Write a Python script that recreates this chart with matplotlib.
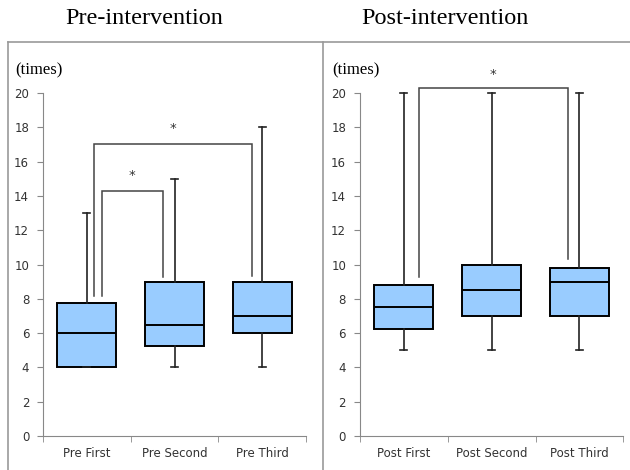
import matplotlib.pyplot as plt
from matplotlib.lines import Line2D

# box statistics
pre_labels = ["Pre First", "Pre Second", "Pre Third"]
pre_q1 = [4.0, 5.25, 6.0]
pre_med = [6.0, 6.5, 7.0]
pre_q3 = [7.75, 9.0, 9.0]
pre_lo = [4.0, 4.0, 4.0]
pre_hi = [13.0, 15.0, 18.0]

post_labels = ["Post First", "Post Second", "Post Third"]
post_q1 = [6.25, 7.0, 7.0]
post_med = [7.5, 8.5, 9.0]
post_q3 = [8.8, 10.0, 9.8]
post_lo = [5.0, 5.0, 5.0]
post_hi = [20.0, 20.0, 20.0]

# significance brackets: (x_left, x_right, y_left_bottom, y_right_bottom, y_top, star_y)
pre_brackets = [
    (1.17, 1.865, 8.15, 9.3, 14.3, 15.2),
    (1.08, 2.887, 8.15, 9.35, 17.0, 17.95),
]
post_brackets = [
    (1.17, 2.865, 9.3, 10.3, 20.28, 21.1),
]

BOX = "#99CCFF"
GREY = "#888888"
TXT = "#333333"


def stats(labels, q1, med, q3, lo, hi):
    return [dict(label=l, q1=a, med=m, q3=b, whislo=w0, whishi=w1, fliers=[])
            for l, a, m, b, w0, w1 in zip(labels, q1, med, q3, lo, hi)]


def panel(ax, st, brackets):
    ax.bxp(st, positions=[1, 2, 3], widths=0.67, capwidths=0.08,
           showfliers=False, patch_artist=True,
           boxprops=dict(facecolor=BOX, edgecolor="black", linewidth=1.4),
           medianprops=dict(color="black", linewidth=1.4),
           whiskerprops=dict(color="#222222", linewidth=1.2),
           capprops=dict(color="#222222", linewidth=1.2))
    for xl, xr, yl, yr, yt, ys in brackets:
        ax.plot([xl, xl, xr, xr], [yl, yt, yt, yr], color="#444444", lw=1.1,
                solid_joinstyle="miter")
        ax.text((xl + xr) / 2, ys, "*", ha="center", va="center",
                fontsize=9.5, color="#333333")
    ax.set_xlim(0.5, 3.5)
    ax.set_ylim(0, 22)
    ax.set_yticks(range(0, 21, 2))
    ax.set_xticks([1, 2, 3])
    ax.set_xticklabels([s["label"] for s in st])
    ax.set_xticks([0.5, 1.5, 2.5, 3.5], minor=True)
    ax.tick_params(axis="x", which="major", length=0, pad=8, labelsize=8.5,
                   labelcolor=TXT)
    ax.tick_params(axis="x", which="minor", length=4, color=GREY, direction="out")
    ax.tick_params(axis="y", length=4, color=GREY, labelsize=8.5,
                   labelcolor=TXT, pad=6)
    for s in ["top", "right"]:
        ax.spines[s].set_visible(False)
    ax.spines["left"].set_bounds(0, 20)
    ax.spines["left"].set_color(GREY)
    ax.spines["bottom"].set_color(GREY)
    ax.text(-0.107, 0.97, "(times)", transform=ax.transAxes, ha="left",
            va="center", family="Liberation Serif", fontsize=12, color="black")


fig = plt.figure(figsize=(6.3, 4.7), dpi=100)
ax1 = fig.add_axes([0.0683, 0.0723, 0.4175, 0.8028])
ax2 = fig.add_axes([0.5714, 0.0723, 0.418, 0.8028])
panel(ax1, stats(pre_labels, pre_q1, pre_med, pre_q3, pre_lo, pre_hi), pre_brackets)
panel(ax2, stats(post_labels, post_q1, post_med, post_q3, post_lo, post_hi), post_brackets)

# panel frames
W, H = 630, 470
for xs, ys in [([8, 630], [42, 42]), ([8, 8], [42, 470]), ([323, 323], [42, 470])]:
    fig.add_artist(Line2D([x / W for x in xs], [1 - y / H for y in ys],
                          color="#999999", lw=1.2))

fig.text(144.5 / W, 1 - 18.5 / H, "Pre-intervention", ha="center", va="center",
         family="Liberation Serif", fontsize=17.5)
fig.text(445 / W, 1 - 18.5 / H, "Post-intervention", ha="center", va="center",
         family="Liberation Serif", fontsize=17.5)

fig.savefig("out.png", dpi=100)
